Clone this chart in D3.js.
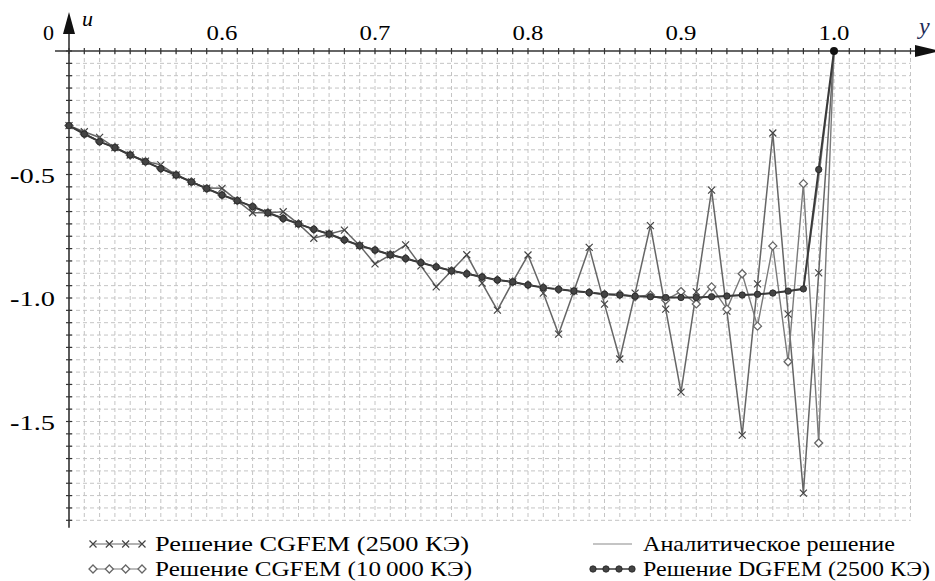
<!DOCTYPE html>
<html>
<head>
<meta charset="UTF-8">
<title>CGFEM / DGFEM</title>
<script src="https://cdn.jsdelivr.net/npm/d3@7/dist/d3.min.js"></script>
<style>
    body{ margin:0; background:#fff; }
    .grid line{ stroke:#c4c4c4; stroke-width:1; stroke-dasharray:4,3; }
    .eje line{ stroke:#333; stroke-width:1.6; }
    .ticks line{ stroke:#333; stroke-width:1.2; }
    .analitica{ fill:none; stroke:#8a8a8a; stroke-width:1.2; }
    .cg2500{ fill:none; stroke:#666; stroke-width:1.5; }
    .cg10000{ fill:none; stroke:#7a7a7a; stroke-width:1.4; }
    .dgfem{ fill:none; stroke:#3a3a3a; stroke-width:2; }
    .cruz{ fill:none; stroke:#444; stroke-width:1.2; }
    .rombo{ fill:#fff; stroke:#666; stroke-width:1.3; }
    .bola{ fill:#444; stroke:#222; stroke-width:0.8; }
</style>
</head>
<body>
<div id="grafico"></div>
<script>
// y coordinates of the nodes
var yPuntos = [0.50,0.51,0.52,0.53,0.54,0.55,0.56,0.57,0.58,0.59,
               0.60,0.61,0.62,0.63,0.64,0.65,0.66,0.67,0.68,0.69,
               0.70,0.71,0.72,0.73,0.74,0.75,0.76,0.77,0.78,0.79,
               0.80,0.81,0.82,0.83,0.84,0.85,0.86,0.87,0.88,0.89,
               0.90,0.91,0.92,0.93,0.94,0.95,0.96,0.97,0.98,0.99,1.00];

// CGFEM, 2500 elements
var cg2500 = [-0.302,-0.327,-0.350,-0.391,-0.421,-0.446,-0.461,-0.502,-0.530,-0.555,
              -0.556,-0.606,-0.655,-0.655,-0.651,-0.700,-0.758,-0.741,-0.725,-0.788,
              -0.862,-0.825,-0.785,-0.870,-0.955,-0.890,-0.825,-0.940,-1.049,-0.935,
              -0.826,-0.980,-1.146,-0.972,-0.795,-1.025,-1.247,-0.980,-0.707,-1.045,
              -1.381,-0.975,-0.563,-1.053,-1.555,-0.943,-0.332,-1.065,-1.790,-0.898,0];

// CGFEM, 10000 elements
var cg10000 = [-0.302,-0.336,-0.367,-0.391,-0.421,-0.448,-0.476,-0.502,-0.530,-0.557,
               -0.583,-0.606,-0.630,-0.655,-0.678,-0.700,-0.722,-0.741,-0.765,-0.788,
               -0.806,-0.825,-0.840,-0.857,-0.874,-0.890,-0.902,-0.915,-0.927,-0.935,
               -0.947,-0.958,-0.965,-0.972,-0.978,-0.985,-0.985,-0.995,-0.988,-1.008,
               -0.974,-1.024,-0.955,-1.045,-0.902,-1.114,-0.789,-1.258,-0.537,-1.587,0];

// DGFEM, 2500 elements
var dgfem = [-0.302,-0.336,-0.367,-0.391,-0.421,-0.448,-0.476,-0.502,-0.530,-0.557,
             -0.583,-0.606,-0.630,-0.655,-0.678,-0.700,-0.722,-0.741,-0.765,-0.788,
             -0.806,-0.825,-0.840,-0.857,-0.874,-0.890,-0.902,-0.915,-0.927,-0.935,
             -0.947,-0.958,-0.965,-0.972,-0.978,-0.985,-0.988,-0.993,-0.995,-0.998,
             -0.998,-0.998,-0.995,-0.992,-0.988,-0.985,-0.980,-0.972,-0.963,-0.480,0];

// analytic solution
var analitica = [-0.302,-0.335,-0.366,-0.392,-0.421,-0.449,-0.476,-0.502,-0.530,-0.556,
                 -0.582,-0.606,-0.630,-0.654,-0.677,-0.699,-0.721,-0.742,-0.764,-0.786,
                 -0.805,-0.824,-0.840,-0.857,-0.873,-0.889,-0.902,-0.915,-0.926,-0.936,
                 -0.947,-0.957,-0.965,-0.972,-0.978,-0.984,-0.988,-0.992,-0.995,-0.997,
                 -0.998,-0.998,-0.996,-0.993,-0.989,-0.985,-0.980,-0.973,-0.964,-0.520,0];

var etiquetasY = [0.6, 0.7, 0.8, 0.9, 1.0];
var etiquetasU = [-0.5, -1.0, -1.5];
var leyenda = ["Решение CGFEM (2500 КЭ)", "Аналитическое решение",
               "Решение CGFEM (10\u2009000 КЭ)", "Решение DGFEM (2500 КЭ)"];

var w = 935, h = 581;
var fuente = "'Liberation Serif'";

var xScale = d3.scaleLinear().domain([0.5, 1.05]).range([69, 910.5]);
var yScale = d3.scaleLinear().domain([0, -1.9]).range([51, 520.3]);

var grafico = d3.select("#grafico")
    .append("svg")
    .attr("width", w)
    .attr("height", h)
    .style("font-family", fuente);

// dashed grid
var rejillaX = d3.range(51, 106).map(function(i){ return i / 100; });
var rejillaU = d3.range(1, 39).map(function(i){ return -i * 0.05; });

var grid = grafico.append("g").attr("class", "grid");
grid.selectAll(".gv")
    .data(rejillaX)
    .enter()
    .append("line")
    .attr("x1", function(d){ return xScale(d); })
    .attr("x2", function(d){ return xScale(d); })
    .attr("y1", yScale(0))
    .attr("y2", yScale(-1.9));
grid.selectAll(".gh")
    .data(rejillaU)
    .enter()
    .append("line")
    .attr("x1", xScale(0.5))
    .attr("x2", xScale(1.05))
    .attr("y1", function(d){ return yScale(d); })
    .attr("y2", function(d){ return yScale(d); });

// axes with small ticks through them
var ticksX = d3.range(50, 106).map(function(i){ return i / 100; });
var ticksU = d3.range(0, 39).map(function(i){ return -i * 0.05; });

var ejes = grafico.append("g").attr("class", "eje");
ejes.append("line")
    .attr("x1", 55).attr("x2", 918)
    .attr("y1", yScale(0)).attr("y2", yScale(0));
ejes.append("line")
    .attr("x1", xScale(0.5)).attr("x2", xScale(0.5))
    .attr("y1", 30).attr("y2", yScale(-1.93));
grafico.append("path")
    .attr("d", "M915," + (yScale(0) - 6) + "L940," + yScale(0) + "L915," + (yScale(0) + 6) + "Z")
    .attr("fill", "#111");
grafico.append("path")
    .attr("d", "M" + (xScale(0.5) - 6) + ",34L" + xScale(0.5) + ",12L" + (xScale(0.5) + 6) + ",34Z")
    .attr("fill", "#111");

var ticks = grafico.append("g").attr("class", "ticks");
ticks.selectAll(".tx")
    .data(ticksX)
    .enter()
    .append("line")
    .attr("x1", function(d){ return xScale(d); })
    .attr("x2", function(d){ return xScale(d); })
    .attr("y1", yScale(0) - 3)
    .attr("y2", yScale(0) + 3);
ticks.selectAll(".tu")
    .data(ticksU)
    .enter()
    .append("line")
    .attr("x1", xScale(0.5) - 3)
    .attr("x2", xScale(0.5) + 3)
    .attr("y1", function(d){ return yScale(d); })
    .attr("y2", function(d){ return yScale(d); });

// tick labels
grafico.selectAll(".labX")
    .data(etiquetasY)
    .enter()
    .append("text")
    .attr("x", function(d){ return xScale(d); })
    .attr("y", 40)
    .attr("text-anchor", "middle")
    .attr("textLength", 31)
    .attr("lengthAdjust", "spacingAndGlyphs")
    .attr("font-size", 22)
    .style("font-family", fuente)
    .text(function(d){ return d3.format(".1f")(d); });

var labU = grafico.selectAll(".labU")
    .data(etiquetasU)
    .enter()
    .append("text")
    .attr("x", 55)
    .attr("y", function(d){ return yScale(d) + 8; })
    .attr("text-anchor", "end")
    .attr("textLength", 45)
    .attr("lengthAdjust", "spacingAndGlyphs")
    .attr("font-size", 22)
    .style("font-family", fuente);
labU.append("tspan").attr("font-weight", "bold").text("-");
labU.append("tspan").text(function(d){ return d3.format(".1f")(Math.abs(d)); });

grafico.append("text").attr("x", 43).attr("y", 40).attr("font-size", 22)
    .style("font-family", fuente).text("0");
grafico.append("text").attr("x", 82).attr("y", 26).attr("font-size", 22)
    .attr("font-style", "italic").style("font-family", fuente).text("u");
grafico.append("text").attr("x", 919).attr("y", 34).attr("font-size", 24)
    .attr("font-style", "italic").attr("fill", "#1e2c58").style("font-family", fuente).text("y");

// curves
function linea(valores){
    return d3.line()
        .x(function(d, i){ return xScale(yPuntos[i]); })
        .y(function(d){ return yScale(d); })(valores);
}
grafico.append("path").attr("class", "analitica").attr("d", linea(analitica));
grafico.append("path").attr("class", "cg2500").attr("d", linea(cg2500));
grafico.append("path").attr("class", "cg10000").attr("d", linea(cg10000));
grafico.append("path").attr("class", "dgfem").attr("d", linea(dgfem));

function marcador(g, tipo, x, y){
    if (tipo === "cruz") {
        g.append("path").attr("class", "cruz")
            .attr("d", "M" + (x - 3.5) + "," + (y - 3.5) + "L" + (x + 3.5) + "," + (y + 3.5) +
                       "M" + (x - 3.5) + "," + (y + 3.5) + "L" + (x + 3.5) + "," + (y - 3.5));
    } else if (tipo === "rombo") {
        g.append("path").attr("class", "rombo")
            .attr("d", "M" + x + "," + (y - 4) + "L" + (x + 4) + "," + y + "L" + x + "," + (y + 4) +
                       "L" + (x - 4) + "," + y + "Z");
    } else {
        g.append("circle").attr("class", "bola").attr("cx", x).attr("cy", y).attr("r", 3.2);
    }
}

var marcas = grafico.append("g");
cg2500.forEach(function(d, i){ if (i < 50) marcador(marcas, "cruz", xScale(yPuntos[i]), yScale(d)); });
cg10000.forEach(function(d, i){ if (i < 50) marcador(marcas, "rombo", xScale(yPuntos[i]), yScale(d)); });
dgfem.forEach(function(d, i){ if (i < 50) marcador(marcas, "bola", xScale(yPuntos[i]), yScale(d)); });
grafico.append("circle").attr("cx", xScale(1.0)).attr("cy", yScale(0)).attr("r", 4).attr("fill", "#111");

// legend
var ley = grafico.append("g");
var filas = [551, 576];
var muestras = [
    {x0: 93, x1: 142, fila: 0, clase: "cg2500", tipo: "cruz"},
    {x0: 593, x1: 632, fila: 0, clase: "analitica", tipo: null},
    {x0: 93, x1: 142, fila: 1, clase: "cg10000", tipo: "rombo"},
    {x0: 593, x1: 632, fila: 1, clase: "dgfem", tipo: "bola"}
];
var anchos = [314, 252, 317, 287];
muestras.forEach(function(m, i){
    var yy = filas[m.fila] - 7;
    ley.append("line").attr("class", m.clase)
        .attr("x1", m.x0).attr("x2", m.x1).attr("y1", yy).attr("y2", yy)
        .style("stroke-width", m.clase === "dgfem" ? 1.4 : 1.2);
    if (m.tipo) {
        for (var k = 0; k < 4; k++) {
            marcador(ley, m.tipo, m.x0 + k * (m.x1 - m.x0) / 3, yy);
        }
    }
    ley.append("text")
        .attr("x", m.x0 + 62 - (m.x0 === 593 ? 12 : 0))
        .attr("y", filas[m.fila])
        .attr("textLength", anchos[i])
        .attr("lengthAdjust", "spacingAndGlyphs")
        .attr("font-size", 22)
        .style("font-family", fuente)
        .text(leyenda[i]);
});
</script>
</body>
</html>
